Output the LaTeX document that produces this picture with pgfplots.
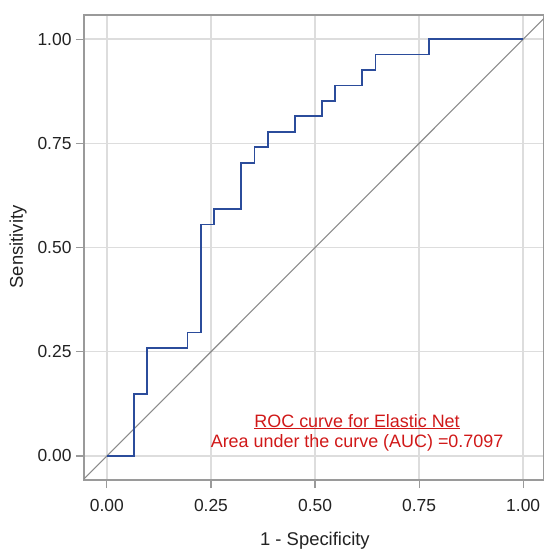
\documentclass[border=0pt]{standalone}
\usepackage{pgfplots}
\pgfplotsset{compat=1.18}
\usepackage{fontspec}
\setmainfont{Liberation Sans}
\definecolor{roc}{HTML}{2B4C9B}
\definecolor{gridc}{HTML}{DDDDDD}
\definecolor{framec}{HTML}{9A9A9A}
\definecolor{txt}{HTML}{222222}
\definecolor{annot}{HTML}{D01818}
\begin{document}
\begin{tikzpicture}
\begin{axis}[
  at={(0,0)}, anchor=south west,
  scale only axis,
  width=460bp, height=465bp,
  xmin=-0.055, xmax=1.05,
  ymin=-0.0576, ymax=1.058,
  xtick={0,0.25,0.5,0.75,1},
  ytick={0,0.25,0.5,0.75,1},
  xticklabels={0.00,0.25,0.50,0.75,1.00},
  yticklabels={0.00,0.25,0.50,0.75,1.00},
  /pgf/number format/assume math mode=true,
  tick label style={font=\fontsize{17.5}{20}\selectfont, text=txt},
  label style={font=\fontsize{18.5}{21}\selectfont, text=txt},
  grid=major,
  major grid style={gridc, line width=1.4bp},
  axis line style={framec, line width=1.6bp},
  tick align=outside,
  major tick length=8bp,
  tick style={framec, line width=1.2bp},
  xtick pos=bottom, ytick pos=left,
  xticklabel style={yshift=-8bp},
  yticklabel style={xshift=-1bp},
  xlabel={1 - Specificity},
  ylabel={Sensitivity},
  xlabel style={at={(axis description cs:0.502,-0.130)}, anchor=center},
  ylabel style={at={(axis description cs:-0.1435,0.501)}, anchor=center, rotate=0},
  clip=true,
]
\addplot[framec!90!black, line width=1.1bp] coordinates {(-0.1,-0.1) (1.1,1.1)};
\addplot[roc, line width=1.8bp, const plot] coordinates {
(0,0) (0.0645,0.1481) (0.0968,0.2593) (0.1935,0.2963) (0.2258,0.5556)
(0.2581,0.5926) (0.3226,0.7037) (0.3548,0.7407) (0.3871,0.7778)
(0.4516,0.8148) (0.5161,0.8519) (0.5484,0.8889) (0.6129,0.9259)
(0.6452,0.9630) (0.7742,1) (1,1)};
\node[text=annot, font=\fontsize{18}{21}\selectfont, anchor=center] at (axis cs:0.601,0.0824) {\underline{ROC curve for Elastic Net}};
\node[text=annot, font=\fontsize{18}{21}\selectfont, anchor=center] at (axis cs:0.601,0.031) {Area under the curve (AUC) =0.7097};
\end{axis}
\pgfresetboundingbox
\path (-84bp,-72bp) rectangle (460bp,480bp);
\end{tikzpicture}
\end{document}
